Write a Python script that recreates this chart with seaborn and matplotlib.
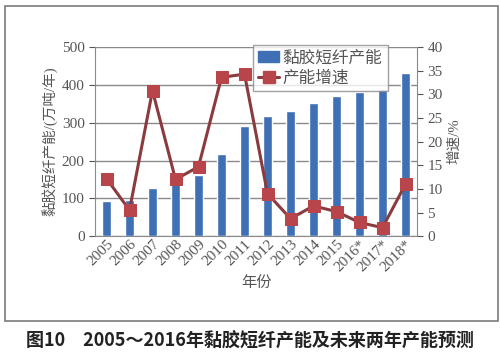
import matplotlib
matplotlib.use('Agg')
import matplotlib.pyplot as plt
from matplotlib.patches import Rectangle
from matplotlib.lines import Line2D
import seaborn as sns
import pandas as pd

years = ['2005', '2006', '2007', '2008', '2009', '2010', '2011', '2012',
         '2013', '2014', '2015', '2016*', '2017*', '2018*']
capacity = [93, 96, 127, 140, 163, 218, 292, 319, 331, 352, 372, 382, 390, 432]
growth = [12.2, 5.5, 30.8, 12.0, 14.7, 33.6, 34.3, 9.0, 3.7, 6.4, 5.2, 2.9, 1.8, 11.0]

sns.set_style('white')
fam = ['Liberation Serif', 'Noto Sans CJK SC']
plt.rcParams['font.family'] = fam
txt = '#555555'

df = pd.DataFrame({'year': years, 'capacity': capacity, 'growth': growth})

fig = plt.figure(figsize=(5, 3.6), dpi=100)
ax = fig.add_axes([0.19, 0.344, 0.644, 0.525])

sns.barplot(data=df, x='year', y='capacity', color='#3f6fb5', saturation=1,
            width=0.42, ax=ax, zorder=2)
ax.set_ylim(0, 500)
ax.set_yticks(range(0, 501, 100))
ax.set_xlim(-0.5, len(years) - 0.5)
ax.yaxis.grid(True, color='#8a8a8a', linewidth=1)
ax.set_axisbelow(True)
ax.set_xlabel('年份', color=txt, fontsize=11, labelpad=2)
ax.set_ylabel('黏胶短纤产能/(万吨/年)', color=txt, fontsize=10.5, labelpad=3)
ax.tick_params(axis='both', colors=txt, labelsize=11, length=4, direction='out')
ax.tick_params(axis='x', length=0, pad=1)
ax.set_xticks(range(len(years)))
ax.set_xticklabels(years, rotation=45, ha='right', rotation_mode='anchor')
ax.set_xticks([i - 0.5 for i in range(len(years) + 1)], minor=True)
ax.tick_params(axis='x', which='minor', length=4, color='#8a8a8a')
for s in ['top', 'right']:
    ax.spines[s].set_visible(False)
for s in ['left', 'bottom']:
    ax.spines[s].set_color('#8a8a8a')

ax2 = ax.twinx()
sns.lineplot(data=df, x='year', y='growth', ax=ax2, color='#8b3a3e',
             linewidth=2.2, marker='s', markersize=8,
             markerfacecolor='#b8454a', markeredgecolor='#b8454a', sort=False)
ax2.set_ylim(0, 40)
ax2.set_yticks(range(0, 41, 5))
ax2.set_ylabel('增速/%', color=txt, fontsize=10.5, rotation=90, labelpad=4)
ax2.tick_params(axis='y', colors=txt, labelsize=11, length=4, direction='out')
for s in ['top', 'left', 'bottom']:
    ax2.spines[s].set_visible(False)
ax2.spines['right'].set_color('#8a8a8a')
ax2.set_xlim(-0.5, len(years) - 0.5)

handles = [Rectangle((0, 0), 1, 1, color='#3f6fb5'),
           Line2D([0], [0], color='#8b3a3e', linewidth=2.2, marker='s',
                  markersize=8, markerfacecolor='#b8454a', markeredgecolor='#b8454a')]
leg = ax2.legend(handles, ['黏胶短纤产能', '产能增速'], loc='upper left',
                 bbox_to_anchor=(0.49, 1.01), frameon=True, fancybox=False,
                 edgecolor='#8a8a8a', fontsize=12, handlelength=1.3,
                 handletextpad=0.2, borderpad=0.3, labelspacing=0.25,
                 borderaxespad=0)
leg.get_frame().set_linewidth(1)
for t in leg.get_texts():
    t.set_color(txt)

fig.patches.append(Rectangle((0.01, 0.108), 0.985, 0.875, transform=fig.transFigure,
                             fill=False, edgecolor='#7a7a7a', linewidth=1.2))
fig.text(0.5, 0.053, '图10　2005～2016年黏胶短纤产能及未来两年产能预测',
         ha='center', va='center', fontsize=13, fontweight='bold',
         color='#222222', family=['Noto Sans CJK SC', 'DejaVu Sans'])

fig.savefig('out.png', dpi=100)
